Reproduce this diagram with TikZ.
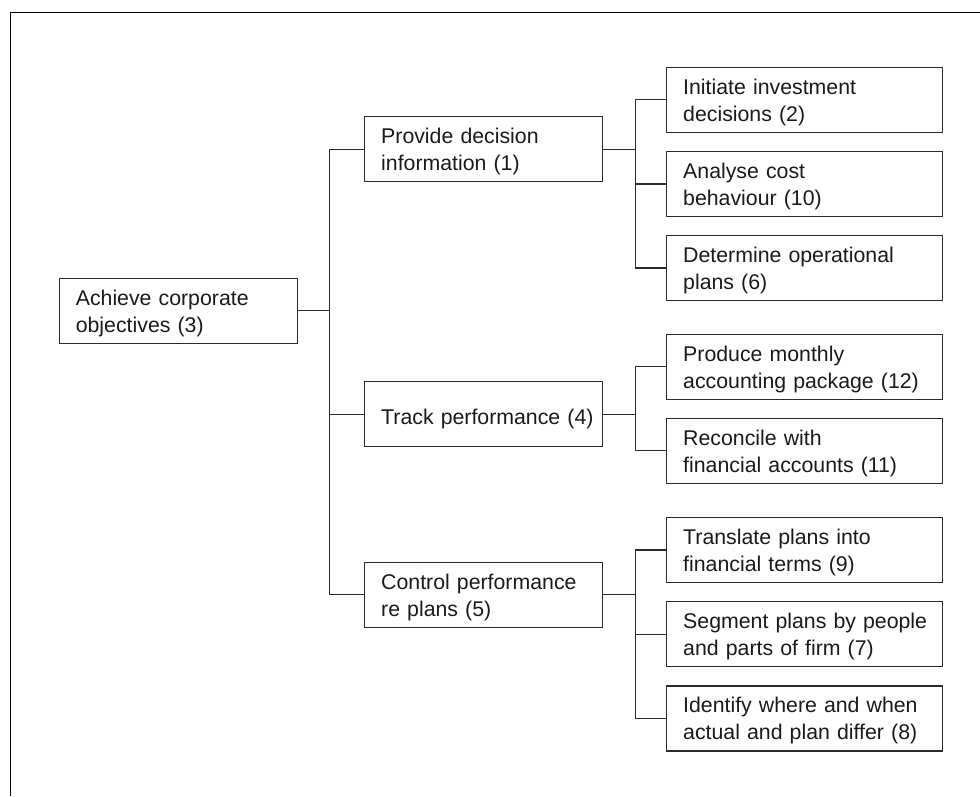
\documentclass[tikz,border=0pt]{standalone}
\usepackage{fontspec}
\setmainfont{Liberation Sans}
\definecolor{inkline}{HTML}{2A2A2A}
\definecolor{inktext}{HTML}{1A1A1A}
% one unbreakable line of box text
\newcommand{\boxline}[1]{\mbox{#1}}
\begin{document}
\begin{tikzpicture}[x=1pt,y=-1pt,
  box/.style={draw=inkline, line width=1.2pt, rectangle, anchor=center,
    minimum height=65pt, inner xsep=16.5pt, inner ysep=0pt, align=left,
    text=inktext, font=\fontsize{21.3}{27}\selectfont,
    text height=16pt, text depth=27pt},
  oneline/.style={text height=20pt, text depth=0pt},
  rootbox/.style={box, text width=205pt},
  midbox/.style={box, text width=204.6pt},
  leafbox/.style={box, text width=243pt},
  link/.style={draw=inkline, line width=1.2pt},
  frame/.style={draw=black, line width=1.6pt}]
\useasboundingbox (0,0) rectangle (980,796);

% open frame along the left and top edges
\coordinate (fa) at (10.5,796);
\coordinate (fb) at (10.5,12.5);
\coordinate (fc) at (980,12.5);
\draw[frame] (fa) -- (fb) -- (fc);

% root
\node[rootbox] (root) at (178.3,310.8) {\boxline{Achieve corporate}\\\boxline{objectives (3)}};

% second level
\node[midbox] (p1) at (483.5,149.2) {\boxline{Provide decision}\\\boxline{information (1)}};
\node[midbox,oneline] (p2) at (483.5,414.3) {\boxline{Track performance (4)}};
\node[midbox] (p3) at (483.5,594.7) {\boxline{Control performance}\\\boxline{re plans (5)}};

% leaves
\node[leafbox] (l1) at (804.7,99.7) {\boxline{Initiate investment}\\\boxline{decisions (2)}};
\node[leafbox] (l2) at (804.7,183.9) {\boxline{Analyse cost}\\\boxline{behaviour (10)}};
\node[leafbox] (l3) at (804.7,267.9) {\boxline{Determine operational}\\\boxline{plans (6)}};
\node[leafbox] (l4) at (804.7,366.7) {\boxline{Produce monthly}\\\boxline{accounting package (12)}};
\node[leafbox] (l5) at (804.7,450.8) {\boxline{Reconcile with}\\\boxline{financial accounts (11)}};
\node[leafbox] (l6) at (804.7,550.0) {\boxline{Translate plans into}\\\boxline{financial terms (9)}};
\node[leafbox] (l7) at (804.7,634.2) {\boxline{Segment plans by people}\\\boxline{and parts of firm (7)}};
\node[leafbox] (l8) at (804.7,718.4) {\boxline{Identify where and when}\\\boxline{actual and plan differ (8)}};

% bracket columns
\coordinate (ta) at (329.5,0);
\coordinate (tb) at (635.7,0);

% root to second level
\draw[link] (root.east) -- (root.east -| ta);
\draw[link] (p1.west) -- (p1.west -| ta) |- (p3.west);
\draw[link] (p2.west) -- (p2.west -| ta);

% second level to leaves
\draw[link] (p1.east) -- (p1.east -| tb);
\draw[link] (l1.west) -- (l1.west -| tb) |- (l3.west);
\draw[link] (l2.west) -- (l2.west -| tb);

\draw[link] (p2.east) -- (p2.east -| tb);
\draw[link] (l4.west) -- (l4.west -| tb) |- (l5.west);

\draw[link] (p3.east) -- (p3.east -| tb);
\draw[link] (l6.west) -- (l6.west -| tb) |- (l8.west);
\draw[link] (l7.west) -- (l7.west -| tb);
\end{tikzpicture}
\end{document}
